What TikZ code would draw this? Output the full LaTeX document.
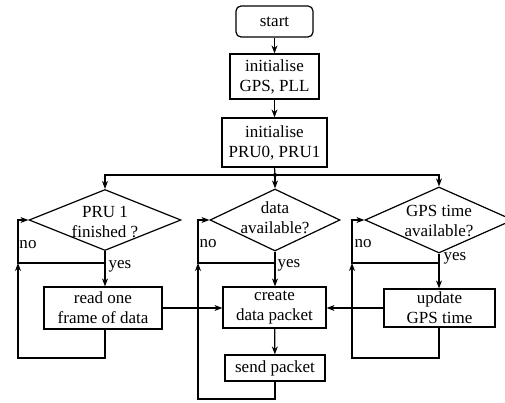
\documentclass[tikz,border=0pt]{standalone}
\usepackage{fontspec}
\setmainfont{Liberation Serif}
\usetikzlibrary{arrows.meta,shapes.geometric}
\begin{document}
\begin{tikzpicture}[x=1pt,y=-1pt,line width=1.2pt,
  every node/.style={font=\fontsize{17}{20}\selectfont},
  box/.style={draw,rectangle,inner sep=0pt,align=center},
  dia/.style={draw,diamond,inner sep=0pt},
  txt/.style={align=center,inner sep=0pt},
  lbl/.style={inner sep=0pt},
  arr/.style={-{Stealth[length=8pt,width=6pt]}}]
\useasboundingbox (0,0) rectangle (505,403);
% boxes
\node[box,rounded corners=5pt,minimum width=77pt,minimum height=31pt] (start) at (274.5,21.5) {start};
\node[box,minimum width=89pt,minimum height=45pt] (init1) at (274.5,76.5) {initialise\\GPS, PLL};
\node[box,minimum width=105pt,minimum height=49pt] (init2) at (274.5,142.5) {initialise\\PRU0, PRU1};
\node[dia,minimum width=152pt,minimum height=61pt] (d1) at (105,220) {};
\node[txt] (t1) at (105,222) {PRU 1\\finished ?};
\node[dia,minimum width=130pt,minimum height=62pt] (d2) at (275,220) {};
\node[txt] (t2) at (275,218) {data\\available?};
\node[dia,minimum width=148pt,minimum height=66pt] (d3) at (439,220) {};
\node[txt] (t3) at (439,221) {GPS time\\available?};
\node[box,minimum width=118pt,minimum height=42pt] (read) at (103,308) {read one\\frame of data};
\node[box,minimum width=103pt,minimum height=41pt] (create) at (274.5,307.5) {create\\data packet};
\node[box,minimum width=100pt,minimum height=26pt] (send) at (275,368) {send packet};
\node[box,minimum width=111pt,minimum height=38pt] (update) at (439.5,308) {update\\GPS time};
% top chain
\draw[arr] (start) -- (init1);
\draw[arr] (init1) -- (init2);
\coordinate (br) at (275,175);
\draw (init2.south) -- (br);
\fill (br) circle (2pt);
\draw[arr] (br) -| (d1.north);
\draw[arr] (br) -| (d3.north);
\draw[arr] (br) -- (d2.north);
% yes arrows
\draw[arr] (d1.south) -- (d1.south |- read.north);
\draw[arr] (d2.south) -- (d2.south |- create.north);
\draw[arr] (d3.south) -- (d3.south |- update.north);
\draw[arr] (create) -- (send);
\draw[arr] (read.east) -- (read.east -| create.west);
\draw[arr] (update.west) -- (update.west -| create.east);
% no loops
\coordinate (j1) at (105,263); \coordinate (c1) at (18,263); \coordinate (b1) at (18,358);
\coordinate (j2) at (275,263); \coordinate (c2) at (198,263); \coordinate (b2) at (198,399);
\coordinate (j3) at (439,263); \coordinate (c3) at (352,263); \coordinate (b3) at (352,358);
\draw[arr] (j1) -- (c1) |- (d1.west);
\draw[arr] (j2) -- (c2) |- (d2.west);
\draw[arr] (j3) -- (c3) |- (d3.west);
\draw[arr] (j1 |- read.south) |- (b1) -- (c1);
\draw[arr] (send.south) |- (b2) -- (c2);
\draw[arr] (j3 |- update.south) |- (b3) -- (c3);
% labels
\node[lbl] (no1) at (28,245) {no};
\node[lbl] (no2) at (208,244) {no};
\node[lbl] (no3) at (363,244) {no};
\node[lbl] (yes1) at (120,266) {yes};
\node[lbl] (yes2) at (289,265) {yes};
\node[lbl] (yes3) at (455,258) {yes};
\end{tikzpicture}
\end{document}
